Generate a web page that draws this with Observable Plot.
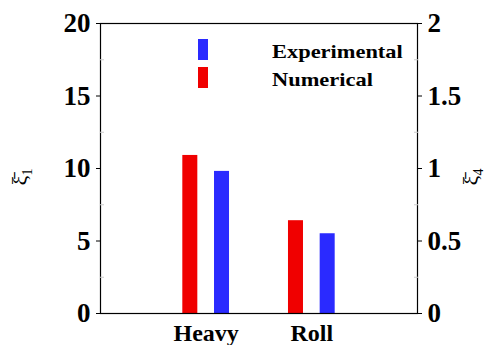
<!DOCTYPE html>
<html>
<head>
<meta charset="utf-8">
<script src="https://cdn.jsdelivr.net/npm/d3@7"></script>
<script src="https://cdn.jsdelivr.net/npm/@observablehq/plot@0.6"></script>
<style>
  html, body { margin: 0; padding: 0; background: #fff; }
  #wrap { position: relative; width: 500px; height: 345px; }
  .leg { position: absolute; font-family: "Liberation Serif", serif; font-weight: bold; font-size: 19px; color: #000; line-height: 1; white-space: nowrap; transform: scaleX(1.18); transform-origin: left center; }
  .sw { position: absolute; width: 10px; height: 21px; }
</style>
</head>
<body>
<div id="wrap"></div>
<script>
// Categories (modes of motion) and series
const categories = ["Heavy", "Roll"];
const seriesNames = ["Numerical", "Experimental"];
const seriesColors = ["#f00000", "#2a2aff"];
// Heave read on the left axis (ξ̄1), roll read on the right axis (ξ̄4)
const numerical = [10.9, 0.64];
const experimental = [9.8, 0.55];
const axisRatio = [1, 10]; // left scale units per value unit for each category
const leftTicks = [0, 5, 10, 15, 20];
const leftMinor = [2.5, 7.5, 12.5, 17.5];
const rightTicks = [0, 0.5, 1, 1.5, 2];
const legendOrder = ["Experimental", "Numerical"];

const seriesValues = [numerical, experimental];
const offsets = [-0.15, 0.15];
const barW = 0.142;
const rows = [];
categories.forEach((c, i) => {
  seriesValues.forEach((vals, s) => {
    rows.push({cat: c, pos: i + 1, s, v: vals[i] * axisRatio[i], color: seriesColors[s]});
  });
});

const font = "Liberation Serif, Times New Roman, serif";
const chart = Plot.plot({
  width: 500,
  height: 345,
  marginLeft: 100,
  marginRight: 83,
  marginTop: 23,
  marginBottom: 32,
  x: {domain: [0, 3]},
  y: {domain: [0, 20]},
  style: {fontFamily: font, background: "#fff", color: "#000"},
  marks: [
    Plot.rectY(rows, {
      x1: d => d.pos + offsets[d.s] - barW / 2,
      x2: d => d.pos + offsets[d.s] + barW / 2,
      y1: 0, y2: "v", fill: "color"
    }),
    Plot.frame({stroke: "#000", strokeWidth: 1.2}),
    Plot.axisY({anchor: "left", ticks: leftTicks, tickSize: 4, tickPadding: 6, fontSize: 27, fontWeight: "bold", label: null, stroke: "#000"}),
    Plot.axisY({anchor: "left", ticks: leftMinor, tickSize: -4, text: null, label: null, stroke: "#ccc"}),
    Plot.axisY({anchor: "right", ticks: rightTicks.map(v => v * 10), tickFormat: (d) => String(+(d / 10).toFixed(2)), tickSize: 4, tickPadding: 6, fontSize: 27, fontWeight: "bold", label: null, stroke: "#000"}),
    Plot.axisY({anchor: "right", ticks: leftMinor, tickSize: -4, text: null, label: null, stroke: "#ccc"}),
    Plot.axisX({ticks: [1, 2], tickFormat: d => categories[d - 1], tickSize: 0, tickPadding: 10, fontSize: 24, fontWeight: "bold", label: null})
  ]
});

const wrap = document.getElementById("wrap");
wrap.appendChild(chart);

// axis titles
const svg = d3.select(chart);
function addLabel(x, sub) {
  const t = svg.append("text")
    .attr("transform", `translate(${x},177) rotate(-90)`)
    .attr("text-anchor", "middle")
    .attr("font-family", font)
    .attr("font-size", 22)
    .attr("fill", "#000");
  t.append("tspan").text("ξ\u0304");
  t.append("tspan").attr("font-size", 14).attr("dy", 5).text(sub);
}
addLabel(27, "1");
addLabel(478, "4");

// legend
const legendPos = {"Experimental": 39, "Numerical": 67};
legendOrder.forEach(name => {
  const s = seriesNames.indexOf(name);
  const sw = document.createElement("div");
  sw.className = "sw";
  sw.style.left = "198px";
  sw.style.top = legendPos[name] + "px";
  sw.style.background = seriesColors[s];
  wrap.appendChild(sw);
  const lab = document.createElement("div");
  lab.className = "leg";
  lab.style.left = "272px";
  lab.style.top = (legendPos[name] + 3) + "px";
  lab.textContent = name;
  wrap.appendChild(lab);
});
</script>
</body>
</html>
